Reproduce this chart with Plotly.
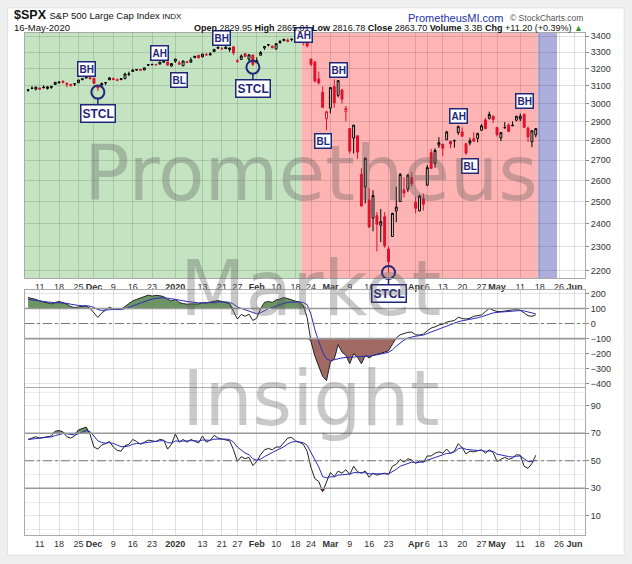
import math
import pandas as pd
import plotly.graph_objects as go
from plotly.subplots import make_subplots

# trading calendar (Nov 6 2019 .. Jun 3 2020, NYSE holidays removed)
holidays = ["2019-11-28", "2019-12-25", "2020-01-01", "2020-01-20",
            "2020-02-17", "2020-04-10", "2020-05-25"]
days = [d for d in pd.bdate_range("2019-11-06", "2020-06-03")
        if d.strftime("%Y-%m-%d") not in holidays]
pos = {d.strftime("%Y-%m-%d"): i for i, d in enumerate(days)}

# $SPX daily OHLC, Nov 6 2019 - May 15 2020
opens = [3075.1, 3087.0, 3081.3, 3080.3, 3089.3, 3084.2, 3090.8, 3107.9, 3117.9, 3127.5,
         3114.7, 3108.5, 3111.4, 3117.4, 3134.9, 3145.5, 3147.2, 3143.9, 3087.4, 3103.5,
         3119.2, 3134.6, 3141.9, 3135.4, 3135.8, 3141.2, 3166.7, 3183.6, 3195.4, 3195.2,
         3192.3, 3223.3, 3226.1, 3225.5, 3227.2, 3247.2, 3240.1, 3215.2, 3244.7, 3226.4,
         3217.6, 3241.9, 3238.6, 3266.0, 3281.0, 3271.1, 3285.4, 3282.3, 3302.9, 3323.7,
         3321.0, 3330.0, 3315.8, 3333.1, 3247.2, 3255.4, 3289.5, 3256.5, 3282.3, 3235.7,
         3280.6, 3324.9, 3344.9, 3335.5, 3318.3, 3365.9, 3370.5, 3365.9, 3378.1, 3369.0,
         3380.4, 3380.5, 3360.5, 3257.6, 3238.9, 3139.9, 3062.5, 2916.9, 2974.3, 3096.5,
         3045.8, 3075.7, 2954.2, 2863.9, 2813.5, 2825.6, 2630.9, 2569.9, 2508.6, 2425.7,
         2436.5, 2393.5, 2431.9, 2290.7, 2344.4, 2457.8, 2501.3, 2555.9, 2559.0, 2614.7,
         2498.1, 2458.5, 2514.9, 2578.3, 2738.7, 2685.0, 2777.0, 2782.5, 2805.1, 2795.6,
         2799.3, 2842.4, 2845.6, 2784.8, 2787.9, 2810.4, 2812.6, 2854.7, 2910.0, 2918.5,
         2930.9, 2869.1, 2815.0, 2868.9, 2883.1, 2878.3, 2908.8, 2915.5, 2939.5, 2865.9,
         2794.5, 2829.95]
highs = [3078.3, 3097.8, 3093.1, 3088.3, 3102.6, 3098.1, 3098.2, 3120.5, 3124.2, 3127.6,
         3118.9, 3110.1, 3112.9, 3133.8, 3142.7, 3154.3, 3150.3, 3144.3, 3094.9, 3119.4,
         3119.4, 3150.6, 3148.9, 3142.1, 3143.9, 3176.3, 3182.7, 3197.7, 3198.2, 3198.5,
         3205.5, 3225.6, 3227.8, 3226.4, 3240.1, 3247.9, 3240.9, 3231.7, 3258.1, 3246.2,
         3246.8, 3244.9, 3267.1, 3275.6, 3282.9, 3288.1, 3294.2, 3299.0, 3317.1, 3329.9,
         3329.8, 3337.8, 3326.9, 3333.2, 3258.8, 3285.8, 3293.5, 3285.9, 3282.3, 3268.4,
         3306.9, 3337.6, 3347.9, 3341.4, 3352.3, 3375.6, 3381.5, 3385.1, 3380.7, 3375.0,
         3393.5, 3389.2, 3360.8, 3259.8, 3246.9, 3182.5, 3097.1, 2959.7, 3090.9, 3136.7,
         3130.9, 3083.0, 2985.9, 2863.9, 2882.6, 2825.6, 2660.9, 2711.3, 2563.0, 2553.9,
         2453.6, 2467.0, 2453.0, 2300.7, 2449.7, 2571.4, 2637.0, 2615.9, 2631.8, 2641.4,
         2522.8, 2533.2, 2538.2, 2676.9, 2756.9, 2760.8, 2818.6, 2782.5, 2851.9, 2801.9,
         2806.5, 2879.2, 2869.0, 2785.5, 2815.1, 2844.9, 2842.7, 2887.7, 2921.2, 2954.9,
         2930.9, 2869.1, 2844.2, 2898.2, 2891.1, 2901.9, 2932.2, 2944.3, 2945.8, 2874.1,
         2852.8, 2865.01]
lows = [3065.9, 3080.2, 3073.6, 3075.8, 3084.7, 3078.8, 3083.3, 3104.6, 3112.1, 3113.5,
        3091.4, 3094.6, 3099.3, 3117.4, 3133.4, 3143.4, 3139.3, 3110.8, 3070.3, 3102.5,
        3103.8, 3134.6, 3135.5, 3126.1, 3133.2, 3138.5, 3156.5, 3183.6, 3191.0, 3191.1,
        3192.3, 3216.0, 3222.3, 3220.5, 3227.2, 3234.4, 3216.6, 3212.0, 3235.5, 3222.3,
        3214.6, 3232.4, 3236.7, 3263.7, 3260.9, 3268.4, 3277.2, 3281.0, 3302.8, 3318.9,
        3316.6, 3320.0, 3301.9, 3281.5, 3234.5, 3253.2, 3271.9, 3242.8, 3214.7, 3235.7,
        3280.6, 3313.8, 3334.4, 3322.1, 3317.8, 3352.7, 3369.7, 3360.5, 3366.2, 3355.6,
        3378.8, 3341.0, 3328.5, 3214.7, 3118.8, 3108.9, 2977.4, 2855.8, 2945.2, 2976.6,
        3034.4, 2999.8, 2901.5, 2734.4, 2734.0, 2707.2, 2478.9, 2492.4, 2380.9, 2367.0,
        2280.5, 2319.8, 2295.6, 2191.9, 2344.4, 2407.5, 2500.7, 2520.0, 2545.3, 2571.2,
        2447.5, 2455.8, 2460.0, 2574.6, 2657.7, 2663.3, 2762.4, 2721.2, 2805.1, 2761.5,
        2764.3, 2830.9, 2820.4, 2727.1, 2776.0, 2794.3, 2791.8, 2852.9, 2860.7, 2912.2,
        2892.5, 2821.6, 2797.9, 2863.6, 2847.7, 2876.5, 2902.9, 2903.4, 2869.6, 2793.2,
        2766.6, 2816.78]
closes = [3076.8, 3085.2, 3093.1, 3087.0, 3091.8, 3094.0, 3096.6, 3120.5, 3122.0, 3120.2,
          3108.5, 3103.5, 3110.3, 3133.6, 3140.5, 3153.6, 3141.0, 3113.9, 3093.2, 3112.8,
          3117.4, 3145.9, 3136.0, 3132.5, 3141.6, 3168.6, 3168.8, 3191.5, 3192.5, 3191.1,
          3205.4, 3221.2, 3224.0, 3223.4, 3239.9, 3240.0, 3221.3, 3230.8, 3257.9, 3234.9,
          3246.3, 3237.2, 3253.1, 3274.7, 3265.4, 3288.1, 3283.2, 3289.3, 3316.8, 3329.6,
          3320.8, 3321.8, 3325.5, 3295.5, 3243.6, 3276.2, 3273.4, 3283.7, 3225.5, 3248.9,
          3297.6, 3334.7, 3345.8, 3327.7, 3352.1, 3357.8, 3379.5, 3373.9, 3380.2, 3370.3,
          3386.2, 3373.2, 3337.8, 3225.9, 3128.2, 3116.4, 2978.8, 2954.2, 3090.2, 3003.4,
          3130.1, 3023.9, 2972.4, 2746.6, 2882.2, 2741.4, 2480.6, 2711.0, 2386.1, 2529.2,
          2398.1, 2409.4, 2304.9, 2237.4, 2447.3, 2475.6, 2630.1, 2541.5, 2626.7, 2584.6,
          2470.5, 2526.9, 2488.7, 2663.7, 2659.4, 2750.0, 2789.8, 2761.6, 2846.1, 2783.4,
          2799.6, 2874.6, 2823.2, 2736.6, 2799.3, 2797.8, 2836.7, 2878.5, 2863.4, 2939.5,
          2912.4, 2830.7, 2842.7, 2868.4, 2848.4, 2881.2, 2929.8, 2930.3, 2870.1, 2820.0,
          2852.5, 2863.7]
close_before = 3074.6

# upper oscillator (black) and its signal (blue)
osc = [172, 168, 160, 150, 142, 137, 130, 140, 146, 138, 128, 112, 106, 110, 114, 118,
       100, 72, 40, 70, 90, 108, 96, 92, 94, 112, 130, 150, 160, 168, 176, 188, 182, 186,
       184, 178, 160, 150, 160, 140, 132, 128, 130, 132, 130, 138, 136, 142, 146, 152, 146,
       140, 132, 80, 30, 60, 48, 62, 20, 36, 100, 140, 146, 140, 156, 162, 172, 165, 155,
       148, 142, 120, 40, -120, -215, -290, -350, -378, -255, -235, -140, -189, -211, -266,
       -200, -222, -266, -211, -228, -211, -205, -195, -190, -180, -134, -95, -75, -66, -58,
       -57, -75, -76, -70, -48, -30, -22, -10, -5, 9, 15, 20, 42, 33, 30, 35, 48, 52, 57, 79,
       100, 88, 80, 79, 84, 86, 90, 92, 88, 70, 52, 48, 57]
osc_signal = [160, 158, 155, 150, 146, 142, 138, 137, 138, 137, 134, 128, 122, 120, 118,
              118, 115, 106, 92, 87, 87, 92, 93, 93, 93, 98, 106, 116, 126, 136, 146, 156,
              162, 167, 170, 171, 168, 164, 163, 157, 151, 146, 142, 139, 137, 137, 137, 138,
              140, 143, 144, 143, 140, 128, 110, 100, 90, 84, 72, 64, 72, 86, 98, 106, 116,
              125, 134, 140, 143, 144, 144, 139, 125, 60, -40, -120, -190, -235, -245, -240,
              -232, -228, -225, -225, -222, -220, -220, -218, -216, -212, -208, -203, -197,
              -190, -175, -150, -128, -110, -96, -88, -84, -80, -76, -66, -56, -46, -36, -26,
              -16, -7, 2, 12, 18, 22, 26, 32, 38, 45, 53, 64, 70, 74, 76, 78, 80, 82, 84, 86,
              83, 75, 68, 64]

# RSI (black) and its average (blue)
rsi = [65.5, 66.5, 67.5, 66.5, 67.0, 67.5, 68.0, 71.5, 72.0, 71.0, 67.5, 66.5, 68.0, 72.5,
       73.5, 74.5, 69.0, 60.0, 58.5, 61.5, 62.5, 64.0, 60.0, 57.5, 57.0, 61.0, 62.0, 65.5,
       64.0, 62.0, 63.5, 65.0, 64.5, 64.0, 65.5, 65.0, 58.5, 62.0, 69.5, 63.5, 65.5, 63.5,
       65.5, 64.5, 63.0, 68.0, 63.5, 65.0, 68.5, 66.5, 66.0, 65.5, 64.5, 58.0, 49.5, 53.0,
       51.5, 52.5, 46.5, 49.5, 54.5, 58.0, 59.0, 58.0, 60.0, 60.0, 63.5, 66.5, 67.0, 64.5,
       63.5, 62.0, 57.0, 45.0, 37.0, 35.0, 27.5, 35.0, 41.5, 38.5, 42.5, 41.0, 43.5, 40.0,
       46.0, 42.0, 41.0, 42.5, 38.0, 41.0, 39.5, 40.5, 41.0, 40.0, 46.0, 47.5, 51.0, 49.0,
       51.5, 50.5, 48.0, 50.0, 49.0, 53.5, 53.5, 55.5, 56.5, 55.5, 58.5, 55.5, 57.0, 62.5,
       59.5, 55.0, 57.0, 56.5, 57.0, 58.0, 55.5, 58.0, 56.0, 49.5, 51.0, 52.5, 51.0, 52.0,
       54.5, 54.0, 46.0, 44.5, 48.0, 54.0]
rsi_avg = [65.5, 65.8, 66.2, 66.5, 66.7, 67.0, 67.4, 68.3, 69.2, 69.8, 69.6, 69.0, 68.8,
           69.6, 70.8, 72.0, 71.2, 68.0, 64.5, 63.3, 62.8, 63.2, 62.6, 61.4, 60.3, 60.3,
           60.8, 62.0, 62.6, 62.6, 63.0, 63.6, 64.0, 64.1, 64.5, 64.6, 63.2, 62.9, 64.4,
           64.2, 64.5, 64.3, 64.6, 64.6, 64.2, 65.1, 64.8, 64.9, 65.7, 65.9, 66.0, 65.8,
           65.4, 63.6, 60.0, 58.0, 55.6, 54.4, 51.5, 50.4, 51.2, 53.0, 54.8, 56.0, 57.4,
           58.6, 60.2, 62.2, 63.6, 64.0, 63.8, 63.2, 61.2, 56.3, 50.4, 45.5, 38.5, 37.6,
           38.4, 38.3, 39.6, 39.8, 40.5, 40.3, 41.4, 41.2, 41.1, 41.3, 40.5, 40.6, 40.3,
           40.4, 40.5, 40.4, 42.0, 43.8, 46.0, 47.0, 48.3, 49.0, 48.7, 49.1, 49.1, 50.4,
           51.3, 52.5, 53.6, 54.1, 55.3, 55.4, 56.5, 58.8, 59.5, 58.3, 58.0, 57.6, 57.5,
           57.6, 56.9, 57.1, 56.8, 54.8, 54.0, 53.7, 53.0, 52.8, 53.3, 53.5, 51.5, 49.5,
           49.4, 50.5]

# chart signals
sig_text = ["BH", "AH", "BL", "BH", "AH", "BL", "BH", "AH", "BL", "BH"]
sig_date = ["2019-11-27", "2019-12-26", "2020-01-03", "2020-01-21", "2020-02-20",
            "2020-02-27", "2020-03-04", "2020-04-17", "2020-04-22", "2020-05-12"]
sig_price = [3197, 3292, 3133, 3385, 3409, 2799, 3191, 2933, 2673, 3016]
stcl_date = ["2019-12-03", "2020-01-31", "2020-03-23"]
stcl_price = [3064, 3209, 2193]

# x axis labels
tick_dates = ["2019-11-11", "2019-11-18", "2019-11-25", "2019-12-02", "2019-12-09",
              "2019-12-16", "2019-12-23", "2020-01-02", "2020-01-13", "2020-01-21",
              "2020-01-27", "2020-02-03", "2020-02-10", "2020-02-18", "2020-02-24",
              "2020-03-02", "2020-03-09", "2020-03-16", "2020-03-23", "2020-04-01",
              "2020-04-06", "2020-04-13", "2020-04-20", "2020-04-27", "2020-05-01",
              "2020-05-11", "2020-05-18", "2020-05-26", "2020-06-01"]
tick_text = ["11", "18", "25", "<b>Dec</b>", "9", "16", "23", "<b>2020</b>", "13", "21",
             "27", "<b>Feb</b>", "10", "18", "24", "<b>Mar</b>", "9", "16", "23", "<b>Apr</b>",
             "6", "13", "20", "27", "<b>May</b>", "11", "18", "26", "<b>Jun</b>"]

n = len(closes)
x = list(range(n))
tickvals = [pos[d] for d in tick_dates]
navy = "#1f2878"
font = "Liberation Sans, Arial, sans-serif"

fig = make_subplots(rows=3, cols=1, shared_xaxes=True, vertical_spacing=0.0)

# card behind the chart (first, so the panel backgrounds sit on top of it)
fig.add_shape(type="rect", xref="paper", yref="paper", x0=-0.031, x1=1.07, y0=-0.04, y1=1.05,
              fillcolor="white", line=dict(color="#e2e2e2", width=1), layer="below")

# coloured backgrounds of the price panel
for x0, x1, c in [(-1, pos["2020-02-20"] - 0.5, "#c4e3c0"),
                  (pos["2020-02-20"] - 0.5, n - 0.5, "#ffb4b4"),
                  (n - 0.5, pos["2020-05-26"] - 0.5, "#aeaedc")]:
    fig.add_shape(type="rect", xref="x", yref="y domain", x0=x0, x1=x1, y0=0, y1=1,
                  fillcolor=c, line_width=0, layer="below")

# candles: black when up on the day, red when down; hollow when close > open
prev = [close_before] + closes[:-1]
groups = {"black": [i for i in x if closes[i] >= prev[i]],
          "#e0102a": [i for i in x if closes[i] < prev[i]]}
for col, ids in groups.items():
    fig.add_trace(go.Candlestick(
        x=ids, open=[opens[i] for i in ids], high=[highs[i] for i in ids],
        low=[lows[i] for i in ids], close=[closes[i] for i in ids],
        increasing=dict(line=dict(color=col, width=1), fillcolor="rgba(255,255,255,0.55)"),
        decreasing=dict(line=dict(color=col, width=1), fillcolor=col),
        whiskerwidth=0, showlegend=False, hoverinfo="skip"), row=1, col=1)

fig.add_trace(go.Scatter(
    x=[pos[d] for d in stcl_date], y=stcl_price, mode="markers",
    marker=dict(symbol="circle-open", size=13, color=navy, line=dict(width=2)),
    showlegend=False, hoverinfo="skip", cliponaxis=False), row=1, col=1)

# upper oscillator with fills beyond +/-100
fig.add_trace(go.Scatter(x=x, y=[100] * n, mode="lines", line=dict(width=0),
                         showlegend=False, hoverinfo="skip"), row=2, col=1)
fig.add_trace(go.Scatter(x=x, y=[max(v, 100) for v in osc], mode="lines", line=dict(width=0),
                         fill="tonexty", fillcolor="#6c9464", showlegend=False,
                         hoverinfo="skip"), row=2, col=1)
fig.add_trace(go.Scatter(x=x, y=[-100] * n, mode="lines", line=dict(width=0),
                         showlegend=False, hoverinfo="skip"), row=2, col=1)
fig.add_trace(go.Scatter(x=x, y=[min(v, -100) for v in osc], mode="lines", line=dict(width=0),
                         fill="tonexty", fillcolor="#a06a62", showlegend=False,
                         hoverinfo="skip"), row=2, col=1)
fig.add_trace(go.Scatter(x=x, y=osc, mode="lines", line=dict(color="#222", width=1),
                         showlegend=False, hoverinfo="skip"), row=2, col=1)
fig.add_trace(go.Scatter(x=x, y=osc_signal, mode="lines", line=dict(color="#2a2ab8", width=1),
                         showlegend=False, hoverinfo="skip"), row=2, col=1)

# RSI with fills beyond 70/30
fig.add_trace(go.Scatter(x=x, y=[70] * n, mode="lines", line=dict(width=0),
                         showlegend=False, hoverinfo="skip"), row=3, col=1)
fig.add_trace(go.Scatter(x=x, y=[max(v, 70) for v in rsi], mode="lines", line=dict(width=0),
                         fill="tonexty", fillcolor="#6c9464", showlegend=False,
                         hoverinfo="skip"), row=3, col=1)
fig.add_trace(go.Scatter(x=x, y=[30] * n, mode="lines", line=dict(width=0),
                         showlegend=False, hoverinfo="skip"), row=3, col=1)
fig.add_trace(go.Scatter(x=x, y=[min(v, 30) for v in rsi], mode="lines", line=dict(width=0),
                         fill="tonexty", fillcolor="#a06a62", showlegend=False,
                         hoverinfo="skip"), row=3, col=1)
fig.add_trace(go.Scatter(x=x, y=rsi, mode="lines", line=dict(color="#222", width=1),
                         showlegend=False, hoverinfo="skip"), row=3, col=1)
fig.add_trace(go.Scatter(x=x, y=rsi_avg, mode="lines", line=dict(color="#2a2ab8", width=1),
                         showlegend=False, hoverinfo="skip"), row=3, col=1)

# reference lines
for yref, v, dash in [("y2", 100, "solid"), ("y2", -100, "solid"), ("y2", 0, "dashdot"),
                      ("y3", 70, "solid"), ("y3", 30, "solid"), ("y3", 50, "dashdot")]:
    fig.add_shape(type="line", xref="x domain", yref=yref, x0=0, x1=1, y0=v, y1=v,
                  line=dict(color="#999" if dash == "solid" else "#777",
                            width=1.6 if dash == "solid" else 1, dash=dash))

# signal labels (log axis: annotation y is given in log10 units)
for t, d, p in zip(sig_text, sig_date, sig_price):
    fig.add_annotation(x=pos[d], y=math.log10(p), xref="x", yref="y", text=f"<b>{t}</b>",
                       showarrow=False, font=dict(family=font, size=10, color=navy),
                       bgcolor="white", bordercolor=navy, borderwidth=1.5, borderpad=1)
for d, p in zip(stcl_date, stcl_price):
    fig.add_annotation(x=pos[d], y=math.log10(p), xref="x", yref="y", text="<b>STCL</b>",
                       showarrow=True, arrowhead=0, arrowwidth=1.5, arrowcolor=navy,
                       ax=0, ay=21, standoff=6, font=dict(family=font, size=12, color=navy),
                       bgcolor="white", bordercolor=navy, borderwidth=1.5, borderpad=1)

# watermark
for t, yp in [("Prometheus", 0.720), ("Market", 0.492), ("Insight", 0.271)]:
    fig.add_annotation(x=0.51, y=yp, xref="paper", yref="paper", text=t, showarrow=False,
                       xanchor="center", yanchor="middle",
                       font=dict(family="DejaVu Sans", size=76, color="rgba(90,90,90,0.33)"))

# header
hdr = [(-0.023, 1.035, "<b>$SPX</b> <span style='font-size:9.5px'>S&P 500 Large Cap Index "
        "<span style='font-size:8px'>INDX</span></span>", 12.5, "#111", "left"),
       (-0.023, 1.011, "16-May-2020", 9.5, "#111", "left"),
       (0.857, 1.03, "PrometheusMI.com", 11, "#2633a8", "right"),
       (1.0, 1.03, "\u00a9 StockCharts.com", 8.5, "#555", "right"),
       (1.0, 1.009, "<b>Open</b> 2829.95 <b>High</b> 2865.01 <b>Low</b> 2816.78 "
        "<b>Close</b> 2863.70 <b>Volume</b> 3.3B <b>Chg</b> +11.20 (+0.39%) "
        "<span style='color:#2e9a2e'>\u25b2</span>", 9, "#111", "right")]
for xp, yp, t, s, c, anc in hdr:
    fig.add_annotation(x=xp, y=yp, xref="paper", yref="paper", text=t, showarrow=False,
                       xanchor=anc, yanchor="middle", font=dict(family=font, size=s, color=c))

axis_common = dict(showline=True, linecolor="#aaa", mirror=True, automargin=False,
                   tickfont=dict(family=font, size=9, color="#333"))
xcommon = dict(range=[-0.8, 143.7], tickvals=tickvals, ticktext=tick_text, tickangle=0,
               ticks="", showgrid=True, gridcolor="rgba(0,0,0,0.12)", gridwidth=1,
               zeroline=False, **axis_common)
ycommon = dict(ticks="outside", ticklen=3, tickcolor="#888", side="right", **axis_common)
fig.update_xaxes(**xcommon)
fig.update_xaxes(showticklabels=True, row=1, col=1)
fig.update_xaxes(showticklabels=False, row=2, col=1)
fig.update_xaxes(showticklabels=True, row=3, col=1)
fig.update_xaxes(rangeslider_visible=False)

fig.update_layout(
    width=632, height=564, paper_bgcolor="#efefef", plot_bgcolor="white",
    margin=dict(l=25, r=47, t=33, b=29), showlegend=False,
    yaxis=dict(domain=[0.512, 1.0], type="log", range=[3.3366, 3.5339],
               tickvals=list(range(2200, 3401, 100)), showgrid=True,
               gridcolor="rgba(0,0,0,0.12)", **ycommon),
    yaxis2=dict(domain=[0.295, 0.488], range=[-420, 222],
                tickvals=list(range(-400, 201, 100)), showgrid=True, zeroline=False,
                gridcolor="rgba(0,0,0,0.1)", **ycommon),
    yaxis3=dict(domain=[0.0, 0.293], range=[-4, 103],
                tickvals=[10, 30, 50, 70, 90], showgrid=True, zeroline=False,
                gridcolor="rgba(0,0,0,0.1)",
                minor=dict(tickvals=[0, 20, 40, 60, 80, 100], showgrid=True,
                           gridcolor="rgba(0,0,0,0.07)"), **ycommon),
)

# the page body keeps its default 8px margin otherwise
fig.write_html("out.html", config={"displayModeBar": False},
               post_script="document.body.style.margin='0';"
                           "document.body.style.background='#efefef';")
